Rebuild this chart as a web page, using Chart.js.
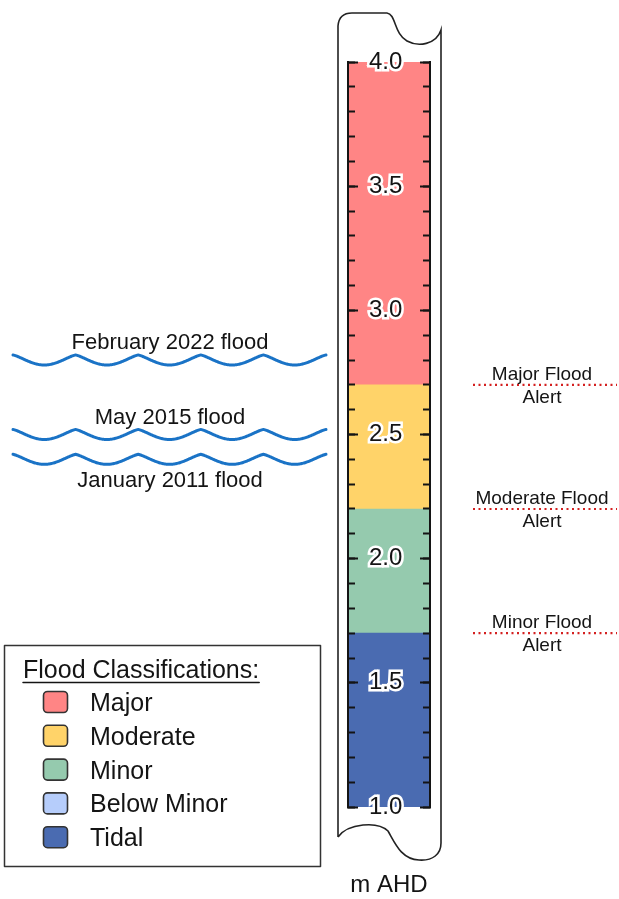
<!DOCTYPE html>
<html>
<head>
<meta charset="utf-8">
<title>Flood classification gauge</title>
<script src="https://cdn.jsdelivr.net/npm/chart.js@4.4.1/dist/chart.umd.min.js"></script>
<style>
  html, body { margin: 0; padding: 0; background: #fff; }
  #wrap { width: 619px; height: 899px; }
</style>
</head>
<body>
<div id="wrap"><canvas id="gauge" width="619" height="899"></canvas></div>
<script>
// gauge bands (m AHD)
const BAND_NAMES = ['Tidal', 'Minor', 'Moderate', 'Major'];
const BAND_FROM = [1.0, 1.7, 2.2, 2.7];
const BAND_TO = [1.7, 2.2, 2.7, 4.0];

// historic floods
const FLOOD_EVENTS = ['February 2022 flood', 'May 2015 flood', 'January 2011 flood'];
const FLOOD_LEVELS = [2.8, 2.5, 2.4];

// alert thresholds
const ALERT_NAMES = ['Major Flood', 'Moderate Flood', 'Minor Flood'];
const ALERT_LEVELS = [2.7, 2.2, 1.7];

const LEGEND_NAMES = ['Major', 'Moderate', 'Minor', 'Below Minor', 'Tidal'];
const LEGEND_TITLE = 'Flood Classifications:';

const AXIS_MIN = 1.0;
const AXIS_MAX = 4.0;
const LABEL_STEP = 0.5;
const MINOR_STEP = 0.1;
const AXIS_TITLE = 'm AHD';

// styles
const FONT = "'Liberation Sans', Arial, sans-serif";
const INK = '#141414';
const COLORS = {
  'Major': '#ff8585',
  'Moderate': '#ffd369',
  'Minor': '#95caae',
  'Below Minor': '#b6cdfb',
  'Tidal': '#4a6bb1'
};
const WAVE_COLOR = '#1a73c6';
const ALERT_COLOR = '#d42020';
const WAVE_LABEL_SIDE = ['above', 'above', 'below'];

function levelAxis(position, step, tickLen, withLabels, withBorder) {
  return {
    type: 'linear',
    axis: 'y',
    position,
    min: AXIS_MIN,
    max: AXIS_MAX,
    afterFit: (scale) => { scale.width = 0; },
    border: { display: withBorder, color: INK, width: 2, z: 2 },
    grid: {
      display: true,
      drawOnChartArea: false,
      drawTicks: true,
      tickLength: tickLen,
      tickColor: INK,
      tickWidth: 2,
      z: 2
    },
    ticks: {
      display: withLabels,
      stepSize: step,
      autoSkip: false,
      maxTicksLimit: 100,
      mirror: true,
      crossAlign: 'center',
      padding: 21,
      z: 3,
      color: INK,
      font: { family: FONT, size: 24 },
      textStrokeColor: '#ffffff',
      textStrokeWidth: 5,
      callback: (v) => Number(v).toFixed(1)
    }
  };
}

function drawStaff(ctx, area) {
  const L = area.left - 10;
  const R = area.right + 11;
  const top = area.top;
  const bot = area.bottom;
  ctx.save();
  ctx.strokeStyle = '#222';
  ctx.lineWidth = 1.6;
  ctx.beginPath();
  ctx.moveTo(L, bot + 30);
  ctx.lineTo(L, top - 36);
  ctx.quadraticCurveTo(L + 1, top - 49, L + 14, top - 49);
  ctx.lineTo(L + 49, top - 49);
  ctx.bezierCurveTo(L + 58, top - 48, L + 56, top - 28, L + 69, top - 21);
  ctx.bezierCurveTo(L + 80, top - 15, R - 5, top - 17, R, top - 32);
  ctx.lineTo(R, bot + 36);
  ctx.bezierCurveTo(R, bot + 47, R - 8, bot + 54, R - 22, bot + 53);
  ctx.bezierCurveTo(R - 40, bot + 52, R - 46, bot + 36, R - 53, bot + 24);
  ctx.bezierCurveTo(R - 63, bot + 14, L + 10, bot + 16, L, bot + 30);
  ctx.stroke();
  ctx.restore();
}

function drawWave(ctx, x0, x1, yMid, periods, depth) {
  const steps = 400;
  ctx.beginPath();
  for (let i = 0; i <= steps; i++) {
    const t = i / steps;
    const phase = (t * periods) % 1;
    const x = x0 + (x1 - x0) * t;
    const y = yMid - depth / 2 + depth * Math.pow(Math.sin(Math.PI * phase), 1.3);
    if (i === 0) ctx.moveTo(x, y); else ctx.lineTo(x, y);
  }
  ctx.stroke();
}

const gaugeDecor = {
  id: 'gaugeDecor',
  beforeDatasetsDraw(chart) {
    drawStaff(chart.ctx, chart.chartArea);
  },
  afterDraw(chart) {
    const ctx = chart.ctx;
    const y = chart.scales.y;
    const area = chart.chartArea;
    ctx.save();

    // flood waves
    ctx.strokeStyle = WAVE_COLOR;
    ctx.lineWidth = 3;
    ctx.lineJoin = 'round';
    ctx.lineCap = 'round';
    ctx.fillStyle = INK;
    ctx.font = `22px ${FONT}`;
    ctx.textAlign = 'center';
    ctx.textBaseline = 'alphabetic';
    FLOOD_LEVELS.forEach((lvl, i) => {
      const py = y.getPixelForValue(lvl);
      drawWave(ctx, 13, 326, py, 5, 10);
      const ty = WAVE_LABEL_SIDE[i] === 'above' ? py - 11 : py + 28;
      ctx.fillText(FLOOD_EVENTS[i], 170, ty);
    });

    // alert thresholds
    ctx.font = `19px ${FONT}`;
    ALERT_LEVELS.forEach((lvl, i) => {
      const py = y.getPixelForValue(lvl);
      ctx.save();
      ctx.strokeStyle = ALERT_COLOR;
      ctx.lineWidth = 2.2;
      ctx.lineCap = 'butt';
      ctx.setLineDash([2, 3.5]);
      ctx.beginPath();
      ctx.moveTo(473, py);
      ctx.lineTo(617, py);
      ctx.stroke();
      ctx.restore();
      ctx.fillText(ALERT_NAMES[i], 542, py - 5);
      ctx.fillText('Alert', 542, py + 18);
    });

    // axis unit
    ctx.font = `24px ${FONT}`;
    ctx.fillText(AXIS_TITLE, (area.left + area.right) / 2, 892);

    // legend box
    ctx.strokeStyle = '#333';
    ctx.lineWidth = 1.5;
    ctx.strokeRect(4.5, 645.5, 316, 221);
    ctx.textAlign = 'left';
    ctx.font = `25px ${FONT}`;
    ctx.fillText(LEGEND_TITLE, 23, 678);
    const tw = ctx.measureText(LEGEND_TITLE).width;
    ctx.strokeStyle = INK;
    ctx.beginPath();
    ctx.moveTo(23, 682.5);
    ctx.lineTo(23 + tw, 682.5);
    ctx.stroke();
    LEGEND_NAMES.forEach((name, i) => {
      const yc = 702 + i * 33.8;
      ctx.beginPath();
      ctx.roundRect(43.5, yc - 10.5, 24, 21, 4);
      ctx.fillStyle = COLORS[name];
      ctx.fill();
      ctx.strokeStyle = '#333';
      ctx.lineWidth = 1.6;
      ctx.stroke();
      ctx.fillStyle = INK;
      ctx.fillText(name, 90, yc + 9);
    });

    ctx.restore();
  }
};

new Chart(document.getElementById('gauge'), {
  type: 'bar',
  data: {
    labels: ['Gauge'],
    datasets: BAND_NAMES.map((name, i) => ({
      label: name,
      data: [[BAND_FROM[i], BAND_TO[i]]],
      backgroundColor: COLORS[name],
      borderWidth: 0,
      barPercentage: 1,
      categoryPercentage: 1,
      grouped: false
    }))
  },
  options: {
    responsive: false,
    animation: false,
    events: [],
    layout: { padding: { left: 348, right: 189, top: 62, bottom: 92 } },
    plugins: {
      legend: { display: false },
      tooltip: { enabled: false }
    },
    scales: {
      x: { display: false },
      y: levelAxis('left', LABEL_STEP, -10, true, true),
      yMinor: levelAxis('left', MINOR_STEP, -7, false, false),
      yRight: levelAxis('right', LABEL_STEP, -10, false, true),
      yRightMinor: levelAxis('right', MINOR_STEP, -7, false, false)
    }
  },
  plugins: [gaugeDecor]
});
</script>
</body>
</html>
